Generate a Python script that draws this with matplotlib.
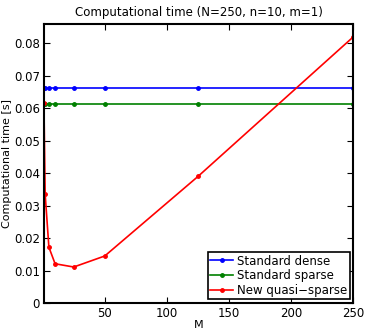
import matplotlib
matplotlib.use('Agg')
import matplotlib.pyplot as plt

M = [1, 2, 5, 10, 25, 50, 125, 250]
dense = [0.0662, 0.0662, 0.0662, 0.0662, 0.0662, 0.0662, 0.0662, 0.0662]
sparse = [0.0613, 0.0613, 0.0613, 0.0613, 0.0613, 0.0613, 0.0613, 0.0613]
quasi = [0.0615, 0.0335, 0.0172, 0.0121, 0.0111, 0.0145, 0.0390, 0.0820]
xticks = [50, 100, 150, 200, 250]
yticks = [0, 0.01, 0.02, 0.03, 0.04, 0.05, 0.06, 0.07, 0.08]

plt.rcParams['font.family'] = 'DejaVu Sans'
plt.rcParams['font.size'] = 8

fig = plt.figure(figsize=(3.66, 3.33), dpi=100)
ax = fig.add_axes([0.120, 0.090, 0.845, 0.838])
ax.plot(M, dense, '.-', color='#0000ff', lw=1.2, ms=5, label='Standard dense')
ax.plot(M, sparse, '.-', color='#008000', lw=1.2, ms=5, label='Standard sparse')
ax.plot(M, quasi, '.-', color='#ff0000', lw=1.2, ms=5, label='New quasi\u2212sparse')

ax.set_xlim(1, 250)
ax.set_ylim(0, 0.086)
ax.set_xticks(xticks)
ax.set_yticks(yticks)
ax.set_yticklabels(['0', '0.01', '0.02', '0.03', '0.04', '0.05', '0.06', '0.07', '0.08'])
ax.tick_params(direction='in', top=True, right=True, length=4, width=0.8, pad=3, labelsize=8.5)
for s in ax.spines.values():
    s.set_linewidth(1.5)
ax.set_xlabel('M', labelpad=0)
ax.set_ylabel('Computational time [s]', labelpad=1)
ax.set_title('Computational time (N=250, n=10, m=1)', fontsize=8.5, pad=6)
leg = ax.legend(loc='lower right', fancybox=False, edgecolor='black', framealpha=1,
                borderpad=0.2, labelspacing=0.15, handlelength=2.0, handletextpad=0.3,
                borderaxespad=0.3, fontsize=8.5)
leg.get_frame().set_linewidth(1.2)

fig.savefig('out.png', dpi=100)
